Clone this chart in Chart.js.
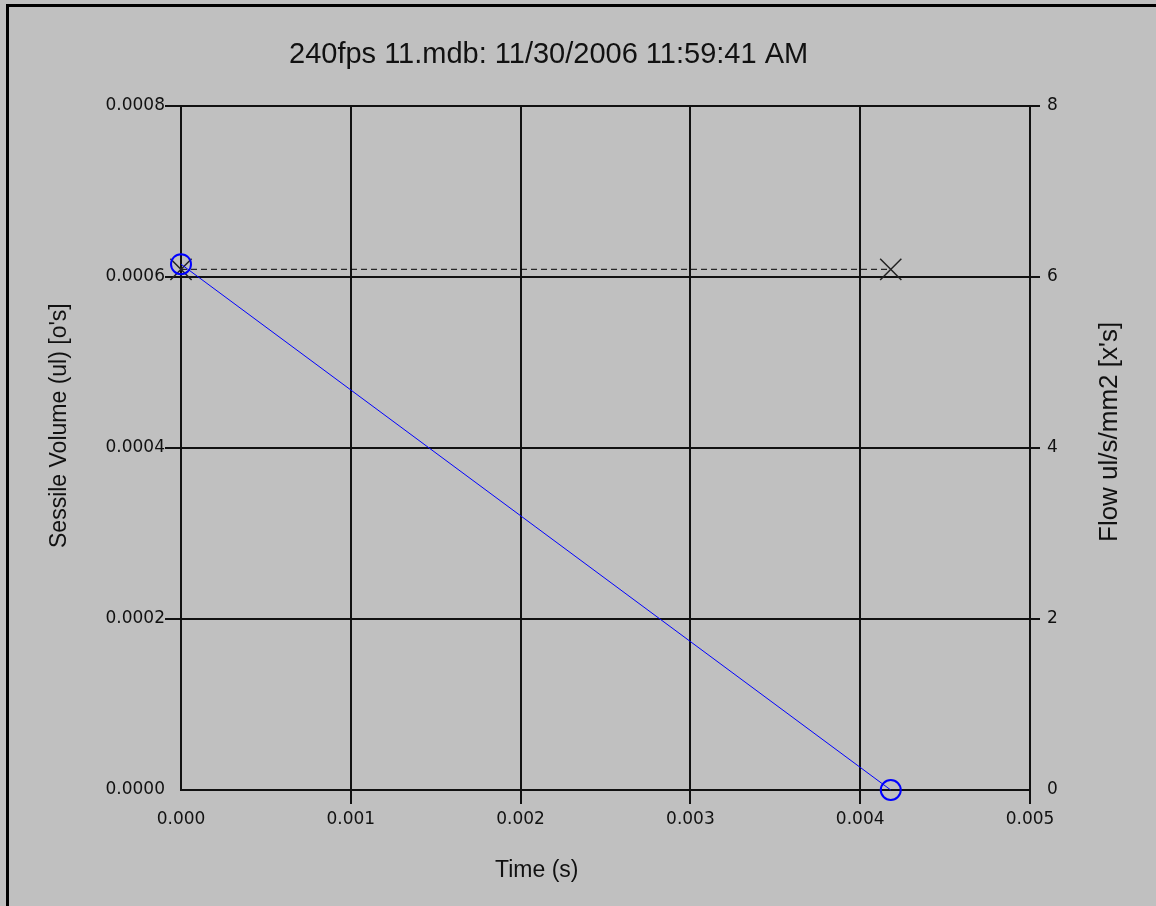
<!DOCTYPE html>
<html>
<head>
<meta charset="utf-8">
<script src="https://cdn.jsdelivr.net/npm/chart.js@4/dist/chart.umd.min.js"></script>
<style>
  html, body { margin: 0; padding: 0; background: #c0c0c0; }
  canvas { display: block; }
</style>
</head>
<body>
<canvas id="chartSessile" width="1156" height="906"></canvas>
<script>
// data
const times = [0, 0.00418];
const volume = [0.000615, 0];
const flow = [6.09, 6.09];

const titleText = '240fps 11.mdb: 11/30/2006 11:59:41 AM';
const xTitle = 'Time (s)';
const yTitle = "Sessile Volume (ul) [o's]";
const y1Title = "Flow ul/s/mm2 [x's]";

const tickFont = { family: 'DejaVu Sans', size: 17 };
const textFont = 'Liberation Sans, Arial, sans-serif';

// hide the tick mark at the origin
const tickColorNoZero = (ctx) => ctx.index === 0 ? 'rgba(0,0,0,0)' : '#111';

const framePlugin = {
    id: 'frame',
    beforeDraw: (chart) => {
        const c = chart.ctx;
        c.save();
        c.fillStyle = '#c0c0c0';
        c.fillRect(0, 0, chart.width, chart.height);
        c.fillStyle = '#000';
        c.fillRect(6, 4, 3, chart.height);
        c.fillRect(6, 4, chart.width, 3);
        c.restore();
    },
    afterDraw: (chart) => {
        const c = chart.ctx;
        c.save();
        c.fillStyle = '#111';
        c.textBaseline = 'alphabetic';
        c.textAlign = 'left';

        c.font = '29px ' + textFont;
        c.fillText(titleText, 289, 63);

        c.font = '23px ' + textFont;
        c.fillText(xTitle, 495, 877);

        c.translate(66, 548);
        c.rotate(-Math.PI / 2);
        c.fillText(yTitle, 0, 0);
        c.setTransform(1, 0, 0, 1, 0, 0);

        c.font = '26px ' + textFont;
        c.translate(1117, 542);
        c.rotate(-Math.PI / 2);
        c.fillText(y1Title, 0, 0);
        c.restore();
    }
};

const initChartSessile = () => {
    const ctx = document.getElementById('chartSessile').getContext('2d');
    return new Chart(ctx, {
        type: 'line',
        data: {
            datasets: [
                {
                    data: times.map((t, i) => ({ x: t, y: volume[i] })),
                    yAxisID: 'y',
                    borderColor: '#0000ff',
                    borderWidth: 1,
                    pointStyle: 'circle',
                    pointRadius: 10,
                    pointBorderColor: '#0000ff',
                    pointBorderWidth: 2,
                    pointBackgroundColor: 'rgba(0,0,0,0)',
                    clip: false
                },
                {
                    data: times.map((t, i) => ({ x: t, y: flow[i] })),
                    yAxisID: 'y1',
                    borderColor: '#000',
                    borderWidth: 1,
                    borderDash: [6, 4],
                    pointStyle: 'crossRot',
                    pointRadius: 15,
                    pointBorderColor: '#222',
                    pointBorderWidth: 1.5,
                    clip: false
                }
            ]
        },
        options: {
            responsive: false,
            animation: false,
            devicePixelRatio: 1,
            layout: { padding: { top: 106, left: 0, right: 0, bottom: 0 } },
            plugins: {
                legend: { display: false },
                tooltip: { enabled: false },
                title: { display: false }
            },
            scales: {
                x: {
                    type: 'linear',
                    min: 0,
                    max: 0.005,
                    afterFit: (s) => { s.height = 116; },
                    ticks: {
                        stepSize: 0.001,
                        color: '#111',
                        font: tickFont,
                        padding: 5,
                        maxRotation: 0,
                        callback: (v) => v.toFixed(3)
                    },
                    grid: { color: '#111', lineWidth: 2, tickLength: 14, tickColor: tickColorNoZero },
                    border: { color: '#111', width: 2 }
                },
                y: {
                    type: 'linear',
                    position: 'left',
                    min: 0,
                    max: 0.0008,
                    afterFit: (s) => { s.width = 181; },
                    ticks: {
                        stepSize: 0.0002,
                        color: '#111',
                        font: tickFont,
                        padding: 0,
                        callback: (v) => v.toFixed(4)
                    },
                    grid: { color: '#111', lineWidth: 2, tickLength: 16, tickColor: tickColorNoZero },
                    border: { color: '#111', width: 2 }
                },
                y1: {
                    type: 'linear',
                    position: 'right',
                    min: 0,
                    max: 8,
                    afterFit: (s) => { s.width = 126; },
                    ticks: {
                        stepSize: 2,
                        color: '#111',
                        font: tickFont,
                        padding: 7,
                        callback: (v) => String(v)
                    },
                    grid: { drawOnChartArea: false, color: '#111', lineWidth: 2, tickLength: 10, tickColor: tickColorNoZero },
                    border: { color: '#111', width: 2 }
                }
            }
        },
        plugins: [framePlugin]
    });
};

initChartSessile();
</script>
</body>
</html>
